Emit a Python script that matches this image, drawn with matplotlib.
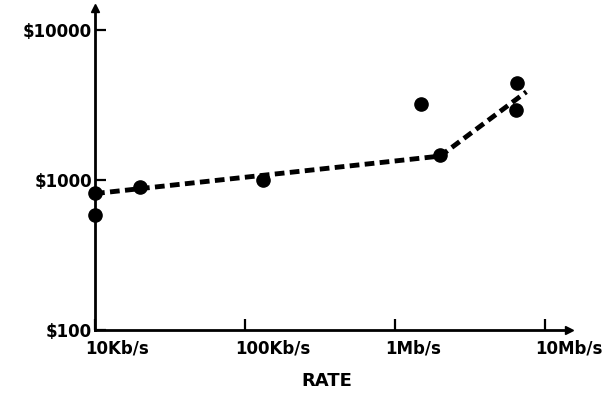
import matplotlib
matplotlib.use("Agg")
import matplotlib.pyplot as plt
import matplotlib.transforms as mtransforms
from matplotlib.ticker import NullLocator

# measured points (rate in b/s, cost in $)
point_rate = [10e3, 10e3, 20e3, 132e3, 1.5e6, 2.0e6, 6.5e6, 6.4e6]
point_cost = [820, 585, 900, 1000, 3200, 1470, 4430, 2930]

# dashed trend line
trend_rate = [10e3, 2.0e6, 7.5e6]
trend_cost = [810, 1440, 3860]

x_ticks = [10e3, 100e3, 1e6, 10e6]
x_tick_labels = ["10Kb/s", "100Kb/s", "1Mb/s", "10Mb/s"]
y_ticks = [100, 1000, 10000]
y_tick_labels = ["$100", "$1000", "$10000"]

fig = plt.figure(figsize=(6.13, 3.95), dpi=100)
ax = fig.add_axes([0.155, 0.165, 0.773, 0.815])

ax.plot(trend_rate, trend_cost, color="black", lw=3.5, ls=(0, (2.0, 1.1)), zorder=2)
ax.plot(point_rate, point_cost, "o", color="black", ms=9.5, zorder=3, clip_on=False)

ax.set_xscale("log")
ax.set_yscale("log")
ax.set_xlim(10e3, 14.4e6)
ax.set_ylim(100, 14000)

ax.set_xticks(x_ticks)
ax.set_xticklabels(x_tick_labels)
ax.set_yticks(y_ticks)
ax.set_yticklabels(y_tick_labels)
ax.xaxis.set_minor_locator(NullLocator())
ax.yaxis.set_minor_locator(NullLocator())

ax.tick_params(axis="both", direction="in", length=8, width=1.6, labelsize=12)
ax.tick_params(axis="x", pad=7)
ax.tick_params(axis="y", pad=2)

# x labels start just left of their tick, as in the scan
shift = mtransforms.ScaledTranslation(-10 / 100, 0, fig.dpi_scale_trans)
for lbl in ax.get_xticklabels():
    lbl.set_fontweight("bold")
    lbl.set_horizontalalignment("left")
    lbl.set_transform(lbl.get_transform() + shift)
for lbl in ax.get_yticklabels():
    lbl.set_fontweight("bold")

ax.spines["top"].set_visible(False)
ax.spines["right"].set_visible(False)
ax.spines["left"].set_linewidth(2)
ax.spines["bottom"].set_linewidth(2)

# arrow heads on the axes
ax.plot(1, 0, ">k", ms=6, transform=ax.transAxes, clip_on=False)
ax.plot(0, 1, "^k", ms=6, transform=ax.transAxes, clip_on=False)

ax.set_xlabel("RATE", fontsize=13, fontweight="bold")
ax.xaxis.set_label_coords(0.49, -0.13)

fig.savefig("out.png", dpi=100)
